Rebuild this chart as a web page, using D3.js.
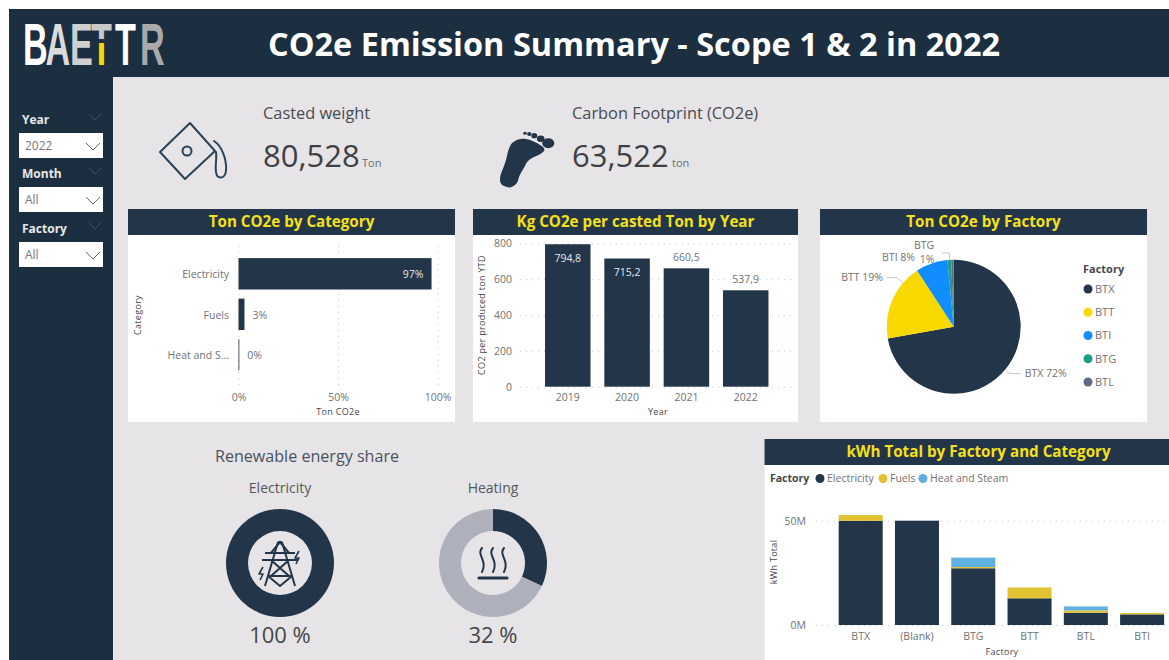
<!DOCTYPE html>
<html>
<head>
<meta charset="utf-8">
<script src="https://cdn.jsdelivr.net/npm/d3@7"></script>
<style>
  html, body { margin: 0; padding: 0; background: #fff; overflow: hidden; }
  svg { display: block; font-family: "Open Sans", sans-serif; }
  .tick text { font-family: "Open Sans", sans-serif; }
</style>
</head>
<body>
<svg id="dash" width="1169" height="660"></svg>
<script>
// data
var reportTitle = 'CO2e Emission Summary - Scope 1 & 2 in 2022';
var slicerNames = ['Year', 'Month', 'Factory'];
var slicerValues = ['2022', 'All', 'All'];

var castedWeight = 80528;
var carbonFootprint = 63522;

var categories = ['Electricity', 'Fuels', 'Heat and Steam'];
var categoryShare = [97, 3, 0.4];
var categoryTicks = [0, 50, 100];

var years = ['2019', '2020', '2021', '2022'];
var kgPerTon = [794.8, 715.2, 660.5, 537.9];
var kgTicks = [0, 200, 400, 600, 800];

var factories = ['BTX', 'BTT', 'BTI', 'BTG', 'BTL'];
var factoryShare = [72.2, 18.6, 7.7, 0.9, 0.6];
var factoryLabels = ['BTX 72%', 'BTT 19%', 'BTI 8%', 'BTG', ''];

var renewableNames = ['Electricity', 'Heating'];
var renewableShare = [100, 32];

var kwhFactories = ['BTX', '(Blank)', 'BTG', 'BTT', 'BTL', 'BTI'];
var kwhElectricity = [50, 50, 27.2, 12.8, 5.9, 5.1];
var kwhFuels = [2.7, 0, 0.6, 5.2, 1.1, 0.65];
var kwhHeat = [0, 0, 4.5, 0, 1.9, 0];
var kwhTicks = [0, 50];

var navy = '#233549';
var headerNavy = '#1b2f40';
var titleYellow = '#f4e01c';
var grey = '#6f7275';
var dark = '#44474a';

var svg = d3.select('#dash');

// page background
svg.append('rect').attr('x', 113).attr('y', 77).attr('width', 1056).attr('height', 583).attr('fill', '#e6e4e6');
svg.append('rect').attr('x', 9).attr('y', 9).attr('width', 1160).attr('height', 68).attr('fill', headerNavy);
svg.append('rect').attr('x', 9).attr('y', 77).attr('width', 104).attr('height', 583).attr('fill', headerNavy);

svg.append('text')
  .attr('x', 634).attr('y', 56)
  .attr('text-anchor', 'middle')
  .attr('font-size', 32.5).attr('font-weight', 700).attr('fill', '#fff')
  .text(reportTitle);

// logo: one text, squeezed sideways, each letter coloured on its own
var logoGrad = svg.append('defs').append('linearGradient').attr('id', 'logoT')
  .attr('x1', 0).attr('x2', 0).attr('y1', 0).attr('y2', 1);
logoGrad.append('stop').attr('offset', '42%').attr('stop-color', '#c9c9c9');
logoGrad.append('stop').attr('offset', '42%').attr('stop-color', headerNavy);
logoGrad.append('stop').attr('offset', '48%').attr('stop-color', headerNavy);
logoGrad.append('stop').attr('offset', '48%').attr('stop-color', '#f5d90a');
var logoLetters = [
  ['B', 0, '#fff'], ['A', 22.5, '#dcdcdc'], ['E', 47, '#d0d0d0'],
  ['T', 68, 'url(#logoT)'], ['T', 92, '#fff'], ['R', 117, '#a9a9a9']
];
var logoSquash = 0.57;
svg.append('text')
  .attr('transform', 'translate(23,65) scale(' + logoSquash + ',1)')
  .attr('font-family', '"Liberation Sans Narrow", sans-serif').attr('font-weight', 700)
  .attr('font-size', 60)
  .selectAll('tspan').data(logoLetters).enter().append('tspan')
  .attr('x', function(d) { return d[1] / logoSquash; })
  .attr('fill', function(d) { return d[2]; })
  .text(function(d) { return d[0]; });

// slicers
function chevron(parent, x, y, w, h, color) {
  parent.append('polyline')
    .attr('points', [[x, y], [x + w / 2, y + h], [x + w, y]].join(' '))
    .attr('fill', 'none').attr('stroke', color).attr('stroke-width', 1);
}
slicerNames.forEach(function(name, i) {
  var top = [133, 187, 242][i];
  var g = svg.append('g');
  g.append('text').attr('x', 22).attr('y', top - 9)
    .attr('font-size', 12).attr('font-weight', 700).attr('fill', '#e8e8e8').text(name);
  chevron(g, 89, top - 19, 12, 6, '#3d5163');
  g.append('rect').attr('x', 19).attr('y', top).attr('width', 84).attr('height', 25).attr('fill', '#fff');
  g.append('text').attr('x', 25).attr('y', top + 17)
    .attr('font-size', 12).attr('fill', '#777').text(slicerValues[i]);
  chevron(g, 86, top + 10, 14, 7, '#666');
});

// KPI cards
var fmtKpi = d3.format(',');
function kpi(x, label, value, unit, unitX) {
  svg.append('text').attr('x', x).attr('y', 119).attr('font-size', 16.35).attr('fill', '#484b50').text(label);
  svg.append('text').attr('x', x).attr('y', 167).attr('font-size', 31).attr('font-weight', 400).attr('fill', '#3e4144').text(fmtKpi(value));
  svg.append('text').attr('x', unitX).attr('y', 167).attr('font-size', 11).attr('fill', '#6a6d70').text(unit);
}
kpi(263, 'Casted weight', castedWeight, 'Ton', 362);
kpi(572, 'Carbon Footprint (CO2e)', carbonFootprint, 'ton', 672);

// casting pot icon
var pot = svg.append('g').attr('fill', 'none').attr('stroke', '#2a4258').attr('stroke-width', 2).attr('stroke-linejoin', 'round').attr('stroke-linecap', 'round');
pot.append('path').attr('d', 'M190 123 L160 152 L185 179 L215 151 Z');
pot.append('circle').attr('cx', 187).attr('cy', 151).attr('r', 4.5);
pot.append('path').attr('d', 'M214 141 C222 146 227 160 226 171 C225 179 217 180 216 172 C215 165 217 158 216 152');

// foot icon
var foot = svg.append('g').attr('fill', navy);
foot.append('path').attr('d', 'M512 143 C516 139 522 138 526 139 C532 140 537 143 540 145 C544 147 546 150 543 152 C540 155 535 156 532 158 C528 160 526 163 525 166 C522 171 520 174 519 177 C518 180 518 182 516 184 C513 187 510 188 507 187 C503 186 500 184 500 180 C500 176 501 173 502 171 C504 166 506 161 507 156 C508 151 509 147 512 143 Z');
[[548.3, 143.3, 6, 5], [540.7, 138.7, 3.8, 3.3], [534.3, 135.7, 3, 2.6], [529.3, 134, 2.2, 1.9], [525, 133.3, 1.8, 1.5]].forEach(function(t) {
  foot.append('ellipse').attr('cx', t[0]).attr('cy', t[1]).attr('rx', t[2]).attr('ry', t[3]);
});

// panel with its title bar
function panel(x, y, w, h, title) {
  svg.append('rect').attr('x', x).attr('y', y).attr('width', w).attr('height', h).attr('fill', '#fff');
  svg.append('rect').attr('x', x).attr('y', y).attr('width', w).attr('height', 26).attr('fill', navy);
  svg.append('text').attr('x', x + w / 2).attr('y', y + 18)
    .attr('text-anchor', 'middle')
    .attr('font-size', 15.2).attr('font-weight', 700).attr('fill', titleYellow).text(title);
}

function styleAxis(g, size) {
  g.select('.domain').remove();
  g.selectAll('text').attr('fill', grey).attr('font-size', size);
}
function grid(g) {
  g.select('.domain').remove();
  g.selectAll('text').remove();
  g.selectAll('line').attr('stroke', '#c8c8c8').attr('stroke-dasharray', '1,5');
}
function axisTitle(x, y, text, rotate) {
  var t = svg.append('text')
    .attr('text-anchor', 'middle')
    .attr('font-size', 9).attr('fill', dark).attr('letter-spacing', 0.3).text(text);
  if (rotate) t.attr('transform', 'translate(' + x + ',' + y + ') rotate(-90)');
  else t.attr('x', x).attr('y', y);
}

// Ton CO2e by Category
panel(128, 209, 327, 213, 'Ton CO2e by Category');
var catX = d3.scaleLinear().domain([0, 100]).range([238.5, 437.5]);
var catY = d3.scaleBand().domain(categories).range([249, 379.6]).padding(0.225);

svg.append('g').attr('transform', 'translate(0,385)')
  .call(d3.axisBottom(catX).tickValues(categoryTicks).tickSize(-143).tickFormat(''))
  .call(grid);
svg.append('g').attr('transform', 'translate(0,391)')
  .call(d3.axisBottom(catX).tickValues(categoryTicks).tickSize(0).tickFormat(function(d) { return d + '%'; }))
  .call(styleAxis, 10.5);
svg.append('g').attr('transform', 'translate(229,1)')
  .call(d3.axisLeft(catY).tickSize(0).tickPadding(0).tickFormat(function(d) {
    return d.length > 12 ? d.slice(0, 10) + '...' : d;
  }))
  .call(styleAxis, 10.5);

svg.append('g').selectAll('rect').data(categories).enter().append('rect')
  .attr('x', catX(0))
  .attr('y', function(d) { return catY(d); })
  .attr('width', function(d, i) { return catX(categoryShare[i]) - catX(0); })
  .attr('height', catY.bandwidth())
  .attr('fill', navy);
svg.append('g').selectAll('text').data(categories).enter().append('text')
  .attr('x', function(d, i) {
    return categoryShare[i] > 50 ? catX(categoryShare[i]) - 8 : catX(categoryShare[i]) + 8;
  })
  .attr('y', function(d) { return catY(d) + catY.bandwidth() / 2 + 1; })
  .attr('dy', '0.35em')
  .attr('text-anchor', function(d, i) { return categoryShare[i] > 50 ? 'end' : 'start'; })
  .attr('font-size', 10.5)
  .attr('fill', function(d, i) { return categoryShare[i] > 50 ? '#e8e8e8' : grey; })
  .text(function(d, i) { return Math.round(categoryShare[i]) + '%'; });
axisTitle(338, 415, 'Ton CO2e');
axisTitle(141, 315, 'Category', true);

// Kg CO2e per casted Ton by Year
panel(473, 209, 325, 213, 'Kg CO2e per casted Ton by Year');
var kgX = d3.scaleBand().domain(years).range([531.2, 782.3]).padding(0.233);
var kgY = d3.scaleLinear().domain([0, 800]).range([386.7, 243.3]);
var fmtKg = d3.formatLocale({ decimal: ',', thousands: '.', grouping: [3], currency: ['', ''] }).format('.1f');

svg.append('g').attr('transform', 'translate(520,0)')
  .call(d3.axisLeft(kgY).tickValues(kgTicks).tickSize(-275).tickFormat(''))
  .call(grid);
svg.append('g').attr('transform', 'translate(512,0)')
  .call(d3.axisLeft(kgY).tickValues(kgTicks).tickSize(0).tickPadding(0))
  .call(styleAxis, 10.5);
svg.append('g').attr('transform', 'translate(0,391)')
  .call(d3.axisBottom(kgX).tickSize(0))
  .call(styleAxis, 10.5);

svg.append('g').selectAll('rect').data(years).enter().append('rect')
  .attr('x', function(d) { return kgX(d); })
  .attr('y', function(d, i) { return kgY(kgPerTon[i]); })
  .attr('width', kgX.bandwidth())
  .attr('height', function(d, i) { return kgY(0) - kgY(kgPerTon[i]); })
  .attr('fill', navy);
svg.append('g').selectAll('text').data(years).enter().append('text')
  .attr('x', function(d) { return kgX(d) + kgX.bandwidth() / 2; })
  .attr('y', function(d, i) {
    return kgY(kgPerTon[i]) + (kgPerTon[i] > 700 ? 14 : -11);
  })
  .attr('dy', '0.35em')
  .attr('text-anchor', 'middle')
  .attr('font-size', 10.5)
  .attr('fill', function(d, i) { return kgPerTon[i] > 700 ? '#e8e8e8' : grey; })
  .text(function(d, i) { return fmtKg(kgPerTon[i]); });
axisTitle(658, 415, 'Year');
axisTitle(485, 315, 'CO2 per produced ton YTD', true);

// Ton CO2e by Factory
panel(820, 209, 327, 213, 'Ton CO2e by Factory');
var pieColors = d3.scaleOrdinal().domain(factories).range([navy, '#f7d900', '#118dff', '#1a9e85', '#5f6b85']);
var pieData = d3.pie().sort(null)(factoryShare);
var pieR = 67;
var pieArc = d3.arc().innerRadius(0).outerRadius(pieR);
var pieG = svg.append('g').attr('transform', 'translate(953.7,326.7)');

pieG.selectAll('path').data(pieData).enter().append('path')
  .attr('d', pieArc)
  .attr('fill', function(d, i) { return pieColors(factories[i]); });

// where each leader line leaves its slice and how far the label sits from it
var leaderLayout = [
  { frac: 0.5, run: 11, elbow: 6 },
  { frac: 0.76, run: -10, elbow: 8 },
  null,
  { frac: 0.6, run: -7, elbow: 7 },
  null
];
var leaderLine = d3.line();
pieData.forEach(function(d, i) {
  var lay = leaderLayout[i];
  if (!lay) return;
  var a = d.startAngle + (d.endAngle - d.startAngle) * lay.frac;
  var p0 = [Math.sin(a) * (pieR + 1), -Math.cos(a) * (pieR + 1)];
  var p1 = [Math.sin(a) * (pieR + lay.elbow), -Math.cos(a) * (pieR + lay.elbow)];
  var p2 = [p1[0] + lay.run, p1[1]];
  pieG.append('path')
    .attr('d', leaderLine([p0, p1, p2]))
    .attr('fill', 'none').attr('stroke', '#c4c4c4').attr('stroke-width', 1);
  d.labelAt = p2;
});
function pieLabel(x, y, anchor, text) {
  pieG.append('text').attr('x', x).attr('y', y).attr('dy', '0.35em')
    .attr('text-anchor', anchor).attr('font-size', 10.5).attr('fill', grey).text(text);
}
pieLabel(pieData[0].labelAt[0] + 4, pieData[0].labelAt[1], 'start', factoryLabels[0]);
pieLabel(pieData[1].labelAt[0] - 4, pieData[1].labelAt[1], 'end', factoryLabels[1]);
pieLabel(-38.7, -69.7, 'end', factoryLabels[2]);
pieLabel(-29.7, -81.7, 'middle', factoryLabels[3]);
pieLabel(-26.7, -67.7, 'middle', Math.round(factoryShare[3]) + '%');

var pieLegend = svg.append('g');
pieLegend.append('text').attr('x', 1083).attr('y', 273)
  .attr('font-size', 11).attr('font-weight', 700).attr('fill', dark).text('Factory');
var legendY = d3.scalePoint().domain(factories).range([289, 382]);
pieLegend.selectAll('circle').data(factories).enter().append('circle')
  .attr('cx', 1088).attr('cy', function(d) { return legendY(d); }).attr('r', 4.5)
  .attr('fill', function(d) { return pieColors(d); });
pieLegend.selectAll('text.item').data(factories).enter().append('text')
  .attr('class', 'item')
  .attr('x', 1095).attr('y', function(d) { return legendY(d); }).attr('dy', '0.35em')
  .attr('font-size', 11).attr('fill', grey).text(function(d) { return d; });

// Renewable energy share
svg.append('text').attr('x', 307).attr('y', 462).attr('text-anchor', 'middle')
  .attr('font-size', 16.1).attr('fill', '#4a5260').text('Renewable energy share');
var donutX = d3.scalePoint().domain(renewableNames).range([280, 493]);
var donutArc = d3.arc().innerRadius(32).outerRadius(54);
renewableNames.forEach(function(name, i) {
  var cx = donutX(name);
  svg.append('text').attr('x', cx).attr('y', 493).attr('text-anchor', 'middle')
    .attr('font-size', 14).attr('fill', '#55585c').text(name);
  var g = svg.append('g').attr('transform', 'translate(' + cx + ',563)');
  g.selectAll('path').data(d3.pie().sort(null)([renewableShare[i], 100 - renewableShare[i]])).enter().append('path')
    .attr('d', donutArc)
    .attr('fill', function(d, j) { return j === 0 ? navy : '#aeb0bc'; });
  svg.append('text').attr('x', cx).attr('y', 643).attr('text-anchor', 'middle')
    .attr('font-size', 22).attr('fill', '#44474a').text(renewableShare[i] + ' %');
});

// pylon icon
var pylon = svg.append('g').attr('transform', 'translate(280,563)')
  .attr('fill', 'none').attr('stroke', navy).attr('stroke-width', 2).attr('stroke-linejoin', 'round');
pylon.append('path').attr('d', 'M-2 -21 L-15 23 M2 -21 L15 23 M-2 -21 L2 -21');
pylon.append('path').attr('d', 'M-15 -10 L15 -10 M-18 -3 L18 -3 M-9 -10 L0 -21 L9 -10 M-9 -3 L9 13 M9 -3 L-9 13 M-12 13 L12 13 M-12 13 L0 23 L12 13');
pylon.append('path').attr('d', 'M-17 4 L-21 11 L-17 11 L-20 17 M19 -12 L15 -5 L19 -5 L16 1').attr('stroke-width', 1.6);

// heating icon
var heat = svg.append('g').attr('transform', 'translate(493,563)')
  .attr('fill', 'none').attr('stroke', navy).attr('stroke-width', 2).attr('stroke-linecap', 'round');
[-11, 0, 11].forEach(function(dx) {
  heat.append('path').attr('d', 'M' + dx + ' -15 C' + (dx - 6) + ' -8 ' + (dx + 6) + ' -3 ' + dx + ' 9');
});
heat.append('line').attr('x1', -14).attr('x2', 14).attr('y1', 15).attr('y2', 15).attr('stroke-width', 3.2);

// kWh Total by Factory and Category (the panel runs past the page edge)
panel(764.5, 439, 428, 221, 'kWh Total by Factory and Category');
var kwhX = d3.scaleBand().domain(kwhFactories).range([826.4, 1176.4]).padding(0.218);
var kwhY = d3.scaleLinear().domain([0, 50]).range([625, 520.7]);
var stackKeys = ['Electricity', 'Fuels', 'Heat and Steam'];
var stackColors = d3.scaleOrdinal().domain(stackKeys).range([navy, '#e2c230', '#5fb0e0']);
var stackRows = kwhFactories.map(function(f, i) {
  return { factory: f, 'Electricity': kwhElectricity[i], 'Fuels': kwhFuels[i], 'Heat and Steam': kwhHeat[i] };
});

svg.append('g').attr('transform', 'translate(816,0)')
  .call(d3.axisLeft(kwhY).tickValues(kwhTicks).tickSize(-353).tickFormat(''))
  .call(grid);
svg.append('g').attr('transform', 'translate(806,0)')
  .call(d3.axisLeft(kwhY).tickValues(kwhTicks).tickSize(0).tickPadding(0).tickFormat(function(d) { return d + 'M'; }))
  .call(styleAxis, 10.5);
svg.append('g').attr('transform', 'translate(0,630)')
  .call(d3.axisBottom(kwhX).tickSize(0))
  .call(styleAxis, 10.5);

svg.append('g').selectAll('g').data(d3.stack().keys(stackKeys)(stackRows)).enter().append('g')
  .attr('fill', function(d) { return stackColors(d.key); })
  .selectAll('rect').data(function(d) { return d; }).enter().append('rect')
  .attr('x', function(d) { return kwhX(d.data.factory); })
  .attr('y', function(d) { return kwhY(d[1]); })
  .attr('width', kwhX.bandwidth())
  .attr('height', function(d) { return kwhY(d[0]) - kwhY(d[1]); });

axisTitle(1002, 655, 'Factory');
axisTitle(777, 562, 'kWh Total', true);

var stackLegend = svg.append('g').attr('font-size', 10.5);
stackLegend.append('text').attr('x', 770).attr('y', 482)
  .attr('font-weight', 700).attr('fill', dark).text('Factory');
var stackLegendX = d3.scaleOrdinal().domain(stackKeys).range([820, 883, 923]);
stackLegend.selectAll('circle').data(stackKeys).enter().append('circle')
  .attr('cx', function(d) { return stackLegendX(d); }).attr('cy', 478.5).attr('r', 4.5)
  .attr('fill', function(d) { return stackColors(d); });
stackLegend.selectAll('text.item').data(stackKeys).enter().append('text')
  .attr('class', 'item')
  .attr('x', function(d) { return stackLegendX(d) + 7; }).attr('y', 482)
  .attr('fill', grey).text(function(d) { return d; });
</script>
</body>
</html>
